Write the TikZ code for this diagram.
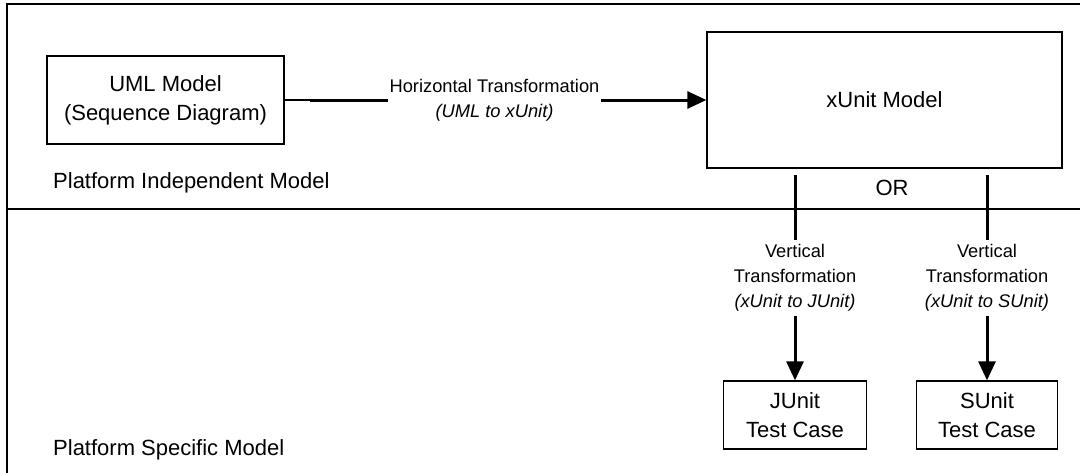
\documentclass[tikz,border=0pt]{standalone}
\usepackage{fontspec}
\setmainfont{Liberation Sans}
\usetikzlibrary{arrows.meta}
\begin{document}
\begin{tikzpicture}[x=1pt,y=-1pt,
  box/.style={draw, line width=1.3pt, align=center, font=\fontsize{22}{29}\selectfont, inner sep=0pt},
  lab/.style={align=center, font=\fontsize{18.3}{25}\selectfont, inner xsep=1pt, inner ysep=4pt},
  plaintext/.style={font=\fontsize{22}{29}\selectfont, inner sep=0pt},
  conn/.style={line width=3pt},
  arr/.style={line width=3pt, -{Triangle[length=19pt,width=17pt]}},
  framestyle/.style={line width=1.8pt}]
\useasboundingbox (0,0) rectangle (1080,472);
% frame and separator
\draw[framestyle] (7,474) -- (7,4) -- (1082,4);
\draw[framestyle] (7,209) -- (1082,209);
% boxes
\node[box, minimum width=237pt, minimum height=88pt] (uml) at (165.5,100) {UML Model\\(Sequence Diagram)};
\node[box, minimum width=355pt, minimum height=136pt] (xunit) at (884.5,100) {xUnit Model};
\node[box, minimum width=143pt, minimum height=68pt] (junit) at (795,415) {JUnit\\Test Case};
\node[box, minimum width=141pt, minimum height=68pt] (sunit) at (987,415) {SUnit\\Test Case};
% labels
\node[lab] (hlab) at (494.5,100) {Horizontal Transformation\\\textit{(UML to xUnit)}};
\node[lab] (vlab1) at (795,278) {Vertical\\Transformation\\\textit{(xUnit to JUnit)}};
\node[lab] (vlab2) at (987,278) {Vertical\\Transformation\\\textit{(xUnit to SUnit)}};
\node[plaintext, anchor=base west] (pim) at (53,188) {Platform Independent Model};
\node[plaintext, anchor=base west] (psm) at (53,455) {Platform Specific Model};
\node[plaintext, anchor=base] (or) at (892,195) {OR};
% connectors
\coordinate (hbend) at (310,100);
\draw[line width=1.3pt] (uml.east) -- (hbend);
\draw[conn] (hbend) -- (hlab.west);
\draw[arr] (hlab.east) -- (xunit.west);
\coordinate (v1) at (795,175);
\coordinate (v2) at (987,175);
\draw[conn] (v1) -- (vlab1.north);
\draw[arr] (vlab1.south) -- (junit.north);
\draw[conn] (v2) -- (vlab2.north);
\draw[arr] (vlab2.south) -- (sunit.north);
\end{tikzpicture}
\end{document}
